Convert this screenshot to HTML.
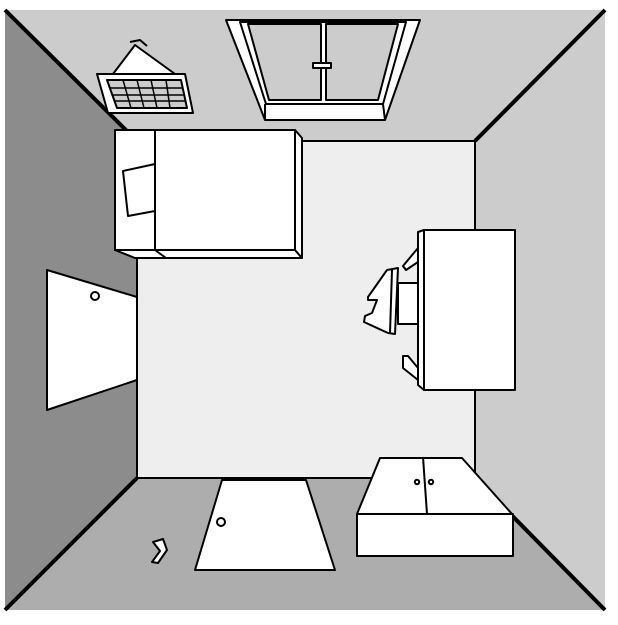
<!DOCTYPE html>
<html><head><style>body{margin:0;background:#fff}svg{display:block}</style></head><body>
<svg width="618" height="625" viewBox="0 0 618 625" xmlns="http://www.w3.org/2000/svg" stroke-linejoin="round">
<polygon points="5,10 605,10 475,141 137,141" fill="#cccccc"/>
<polygon points="5,10 137,141 137,478 5,610" fill="#8c8c8c"/>
<polygon points="605,10 605,610 475,478 475,141" fill="#cccccc"/>
<polygon points="5,610 137,478 475,478 605,610" fill="#adadad"/>
<rect x="137" y="141" width="338" height="337" fill="#eeeeee" stroke="#000" stroke-width="2"/>
<g stroke="#000" stroke-width="4">
<line x1="5" y1="10" x2="137" y2="141"/><line x1="605" y1="10" x2="475" y2="141"/>
<line x1="5" y1="610" x2="137" y2="478"/><line x1="605" y1="610" x2="475" y2="478"/>
</g>
<!-- window -->
<g stroke="#000" stroke-width="2">
<polygon points="226,20 420,20 385,120 265,120" fill="#fff"/>
<polygon points="240,22 406,22 383,104 266,104" fill="#fff"/>
<polygon points="248,24 321,24 321,100 269,100" fill="#ccc"/>
<polygon points="326,24 398,24 378,100 326,100" fill="#ccc"/>
<rect x="313" y="63" width="18" height="5" fill="#fff"/>
<line x1="265" y1="104" x2="265" y2="120"/><line x1="383" y1="104" x2="385" y2="120"/>
</g>
<!-- vent -->
<g stroke="#000" stroke-width="2" fill="#fff">
<polyline points="113,74 135,45 175,74"/>
<path d="M130,42 L140,40 L147,46" fill="none"/>
<polygon points="97,74 185,74 193,113 108,113"/>
<polygon points="107,80 181,80 187,108 117,108" fill="#ccc"/>
</g>
<g stroke="#000" stroke-width="1.5">
<line x1="110" y1="88" x2="183" y2="88"/><line x1="113" y1="95" x2="185" y2="95"/><line x1="115" y1="101" x2="186" y2="101"/>
<line x1="123" y1="80" x2="131" y2="108"/><line x1="137" y1="80" x2="144" y2="108"/><line x1="151" y1="80" x2="157" y2="108"/><line x1="166" y1="80" x2="170" y2="108"/>
</g>
<!-- bed -->
<g stroke="#000" stroke-width="2" fill="#fff">
<polygon points="115,250 295,250 302,258 135,258"/>
<polygon points="295,130 302,138 302,258 295,250"/>
<rect x="115" y="130" width="180" height="120"/>
<line x1="155" y1="130" x2="155" y2="250"/>
<line x1="155" y1="250" x2="166" y2="258"/>
<polygon points="123,171 155,164 155,211 128,216"/>
</g>
<!-- left door -->
<g stroke="#000" stroke-width="2" fill="#fff">
<polygon points="47,270 137,297 137,380 47,410"/>
<circle cx="95" cy="296" r="4"/>
</g>
<!-- bottom door -->
<g stroke="#000" stroke-width="2" fill="#fff">
<polygon points="222,480 306,480 335,570 195,570"/>
<circle cx="221" cy="522" r="4"/>
<path d="M153,542 L163,539 L167,550 L158,563 L152,562 L160,551 Z"/>
</g>
<!-- desk and chair -->
<g stroke="#000" stroke-width="2" fill="#fff">
<polygon points="418,232 424,230 424,390 418,385"/>
<rect x="424" y="230" width="91" height="160"/>
<polygon points="403,266 418,248 418,262 406,270"/>
<polygon points="403,356 408,356 418,368 418,380 403,368"/>
<polygon points="398,283 418,283 418,324 398,324"/>
<polygon points="387,270 398,268 395,334 388,333 364,322 365,316 372,313 377,300 368,300 368,297"/>
<line x1="392" y1="270" x2="390" y2="333"/>
</g>
<!-- cabinet -->
<g stroke="#000" stroke-width="2" fill="#fff">
<polygon points="380,458 462,458 512,514 357,514"/>
<line x1="423" y1="457" x2="427" y2="514"/>
<circle cx="417" cy="482" r="2.2"/><circle cx="431" cy="482" r="2.2"/>
<rect x="357" y="514" width="156" height="42"/>
</g>
</svg>
</body></html>
